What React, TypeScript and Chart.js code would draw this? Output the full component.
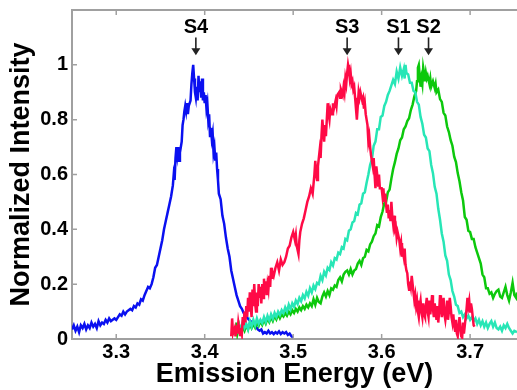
import React, { useEffect, useRef } from 'react';
import { Chart, registerables } from 'chart.js';

Chart.register(...registerables);

// ---- Axis definitions ----
const xRange = [3.25, 3.753];
const yRange = [0, 1.2];
const xTickValues = [3.3, 3.4, 3.5, 3.6, 3.7];
const yTickValues = [0, 0.2, 0.4, 0.6, 0.8, 1];
const xTitle = 'Emission Energy (eV)';
const yTitle = 'Normalized Intensity';

// ---- Peak annotations ----
const peakLabels = ['S4', 'S3', 'S1', 'S2'];
const peakEnergies = [3.39, 3.561, 3.619, 3.653];
const peakLabelLevel = 1.135;
const peakArrowTop = 1.1;
const peakArrowTip = 1.035;

// ---- Series: [energy (eV), normalized intensity] ----
const s4Spectrum = [
  [3.25, 0.035], [3.252, 0.05], [3.254, 0.03], [3.256, 0.045], [3.258, 0.025], [3.26, 0.05], [3.262, 0.04],
  [3.264, 0.055], [3.266, 0.035], [3.268, 0.05], [3.27, 0.04], [3.272, 0.06], [3.274, 0.045], [3.276, 0.055],
  [3.278, 0.04], [3.28, 0.065], [3.282, 0.05], [3.284, 0.06], [3.286, 0.055], [3.288, 0.07], [3.29, 0.06],
  [3.292, 0.075], [3.294, 0.065], [3.296, 0.07], [3.298, 0.075], [3.3, 0.07], [3.302, 0.08], [3.304, 0.09],
  [3.306, 0.085], [3.308, 0.1], [3.31, 0.09], [3.312, 0.1], [3.314, 0.105], [3.316, 0.11], [3.318, 0.105],
  [3.32, 0.12], [3.322, 0.115], [3.324, 0.13], [3.326, 0.125], [3.328, 0.145], [3.33, 0.14], [3.332, 0.16],
  [3.334, 0.175], [3.336, 0.19], [3.338, 0.185], [3.34, 0.2], [3.342, 0.225], [3.344, 0.26], [3.346, 0.27],
  [3.348, 0.3], [3.35, 0.33], [3.352, 0.36], [3.354, 0.4], [3.356, 0.43], [3.358, 0.46], [3.36, 0.49],
  [3.362, 0.52], [3.364, 0.56], [3.365, 0.6], [3.366, 0.58], [3.367, 0.66], [3.368, 0.7], [3.369, 0.67],
  [3.37, 0.7], [3.371, 0.65], [3.372, 0.68], [3.374, 0.72], [3.375, 0.78], [3.376, 0.8], [3.377, 0.83],
  [3.378, 0.85], [3.379, 0.83], [3.38, 0.86], [3.381, 0.82], [3.382, 0.85], [3.384, 0.87], [3.385, 0.93],
  [3.386, 0.97], [3.387, 1.0], [3.388, 0.95], [3.389, 0.9], [3.39, 0.88], [3.391, 0.92], [3.392, 0.87],
  [3.393, 0.96], [3.394, 0.9], [3.395, 0.94], [3.396, 0.88], [3.397, 0.95], [3.398, 0.87], [3.399, 0.9],
  [3.4, 0.86], [3.401, 0.89], [3.402, 0.84], [3.403, 0.86], [3.404, 0.8], [3.405, 0.82], [3.406, 0.74],
  [3.407, 0.77], [3.408, 0.73], [3.409, 0.75], [3.41, 0.68], [3.411, 0.7], [3.412, 0.65], [3.413, 0.68],
  [3.414, 0.62], [3.415, 0.58], [3.416, 0.53], [3.418, 0.51], [3.42, 0.45], [3.422, 0.42], [3.424, 0.37],
  [3.426, 0.33], [3.428, 0.3], [3.43, 0.25], [3.432, 0.22], [3.434, 0.19], [3.436, 0.16], [3.438, 0.14],
  [3.44, 0.12], [3.442, 0.11], [3.444, 0.095], [3.446, 0.085], [3.448, 0.078], [3.45, 0.07], [3.452, 0.065],
  [3.454, 0.06], [3.456, 0.05], [3.458, 0.045], [3.46, 0.035], [3.462, 0.03], [3.464, 0.035], [3.466, 0.02],
  [3.468, 0.025], [3.47, 0.02], [3.472, 0.03], [3.474, 0.02], [3.476, 0.025], [3.478, 0.018], [3.48, 0.025],
  [3.482, 0.02], [3.484, 0.028], [3.486, 0.018], [3.488, 0.025], [3.49, 0.02], [3.492, 0.025], [3.494, 0.015],
  [3.496, 0.02], [3.498, 0.01], [3.5, 0.005],
];

const s3Spectrum = [
  [3.43, 0.01], [3.431, 0.075], [3.432, 0.02], [3.434, 0.04], [3.435, 0.01], [3.436, 0.05], [3.437, 0.02],
  [3.438, 0.06], [3.44, 0.015], [3.441, 0.04], [3.442, 0.02], [3.443, 0.08], [3.444, 0.05], [3.445, 0.1],
  [3.446, 0.06], [3.447, 0.12], [3.448, 0.08], [3.449, 0.15], [3.45, 0.1], [3.451, 0.17], [3.452, 0.12],
  [3.453, 0.08], [3.454, 0.18], [3.455, 0.12], [3.456, 0.2], [3.457, 0.13], [3.458, 0.1], [3.459, 0.17],
  [3.46, 0.12], [3.461, 0.2], [3.462, 0.15], [3.463, 0.19], [3.464, 0.13], [3.465, 0.2], [3.466, 0.15],
  [3.467, 0.22], [3.468, 0.17], [3.469, 0.21], [3.47, 0.16], [3.471, 0.2], [3.472, 0.18], [3.473, 0.23],
  [3.474, 0.19], [3.475, 0.26], [3.476, 0.22], [3.477, 0.24], [3.478, 0.23], [3.48, 0.26], [3.482, 0.28],
  [3.484, 0.25], [3.486, 0.29], [3.488, 0.27], [3.49, 0.28], [3.492, 0.3], [3.494, 0.33], [3.496, 0.34],
  [3.498, 0.37], [3.5, 0.39], [3.502, 0.36], [3.503, 0.38], [3.504, 0.34], [3.506, 0.31], [3.507, 0.36],
  [3.508, 0.39], [3.51, 0.42], [3.512, 0.44], [3.514, 0.47], [3.516, 0.5], [3.518, 0.52], [3.52, 0.55],
  [3.522, 0.53], [3.524, 0.6], [3.525, 0.65], [3.526, 0.6], [3.527, 0.58], [3.528, 0.63], [3.53, 0.69],
  [3.531, 0.66], [3.532, 0.74], [3.533, 0.8], [3.534, 0.76], [3.535, 0.72], [3.536, 0.78], [3.537, 0.74],
  [3.538, 0.8], [3.539, 0.86], [3.54, 0.82], [3.541, 0.8], [3.542, 0.84], [3.544, 0.82], [3.545, 0.86],
  [3.546, 0.84], [3.548, 0.87], [3.549, 0.85], [3.55, 0.89], [3.552, 0.9], [3.553, 0.88], [3.554, 0.91],
  [3.556, 0.89], [3.557, 0.92], [3.558, 0.9], [3.559, 0.95], [3.56, 0.93], [3.561, 0.97], [3.562, 1.0],
  [3.563, 0.98], [3.564, 0.95], [3.565, 0.97], [3.566, 0.93], [3.567, 0.94], [3.568, 0.91], [3.569, 0.92],
  [3.57, 0.88], [3.571, 0.84], [3.572, 0.8], [3.573, 0.85], [3.574, 0.9], [3.575, 0.88], [3.576, 0.9],
  [3.578, 0.87], [3.579, 0.88], [3.58, 0.84], [3.581, 0.86], [3.582, 0.82], [3.583, 0.8], [3.584, 0.78],
  [3.585, 0.72], [3.586, 0.74], [3.587, 0.7], [3.588, 0.67], [3.59, 0.63], [3.591, 0.66], [3.592, 0.6],
  [3.593, 0.55], [3.594, 0.63], [3.595, 0.6], [3.596, 0.56], [3.597, 0.6], [3.598, 0.55], [3.6, 0.55],
  [3.601, 0.52], [3.602, 0.55], [3.603, 0.5], [3.604, 0.53], [3.605, 0.49], [3.606, 0.46], [3.607, 0.49],
  [3.608, 0.44], [3.609, 0.47], [3.61, 0.43], [3.611, 0.5], [3.612, 0.45], [3.613, 0.42], [3.614, 0.45],
  [3.615, 0.4], [3.616, 0.41], [3.617, 0.37], [3.618, 0.39], [3.62, 0.36], [3.621, 0.33], [3.622, 0.35],
  [3.623, 0.3], [3.624, 0.32], [3.625, 0.3], [3.626, 0.33], [3.627, 0.27], [3.628, 0.25], [3.629, 0.24],
  [3.63, 0.2], [3.631, 0.18], [3.632, 0.21], [3.633, 0.19], [3.634, 0.23], [3.635, 0.2], [3.636, 0.17],
  [3.637, 0.14], [3.638, 0.16], [3.639, 0.12], [3.64, 0.14], [3.641, 0.1], [3.642, 0.08], [3.643, 0.12],
  [3.644, 0.14], [3.645, 0.1], [3.646, 0.08], [3.647, 0.13], [3.648, 0.09], [3.649, 0.08], [3.65, 0.12],
  [3.651, 0.15], [3.652, 0.1], [3.653, 0.08], [3.654, 0.14], [3.655, 0.09], [3.656, 0.12], [3.657, 0.16],
  [3.658, 0.11], [3.659, 0.08], [3.66, 0.13], [3.661, 0.1], [3.662, 0.07], [3.663, 0.12], [3.664, 0.06],
  [3.665, 0.1], [3.666, 0.16], [3.667, 0.12], [3.668, 0.08], [3.669, 0.11], [3.67, 0.15], [3.671, 0.09],
  [3.672, 0.07], [3.673, 0.1], [3.674, 0.14], [3.675, 0.07], [3.676, 0.1], [3.677, 0.15], [3.678, 0.12],
  [3.679, 0.08], [3.68, 0.06], [3.681, 0.09], [3.682, 0.05], [3.683, 0.03], [3.684, 0.07], [3.685, 0.02],
  [3.686, 0.01], [3.687, 0.05], [3.688, 0.08], [3.689, 0.04], [3.69, 0.01], [3.691, 0.005], [3.692, 0.06],
  [3.693, 0.02], [3.694, 0.05], [3.695, 0.08], [3.696, 0.11], [3.697, 0.15], [3.698, 0.12], [3.699, 0.14],
  [3.7, 0.1], [3.701, 0.13], [3.702, 0.11], [3.703, 0.08], [3.704, 0.05], [3.705, 0.045],
];

const s1Spectrum = [
  [3.437, 0.02], [3.439, 0.05], [3.441, 0.03], [3.443, 0.06], [3.445, 0.04], [3.447, 0.055], [3.449, 0.035],
  [3.451, 0.065], [3.453, 0.045], [3.455, 0.07], [3.457, 0.05], [3.459, 0.075], [3.461, 0.055], [3.463, 0.07],
  [3.465, 0.058], [3.467, 0.08], [3.469, 0.062], [3.471, 0.085], [3.473, 0.068], [3.475, 0.09], [3.477, 0.074],
  [3.479, 0.095], [3.481, 0.08], [3.483, 0.1], [3.485, 0.088], [3.487, 0.105], [3.489, 0.094], [3.491, 0.115],
  [3.493, 0.1], [3.495, 0.125], [3.497, 0.108], [3.499, 0.13], [3.501, 0.118], [3.503, 0.14], [3.505, 0.128],
  [3.507, 0.15], [3.509, 0.138], [3.511, 0.16], [3.513, 0.148], [3.515, 0.172], [3.517, 0.158], [3.519, 0.185],
  [3.521, 0.17], [3.523, 0.195], [3.525, 0.182], [3.527, 0.205], [3.529, 0.2], [3.531, 0.23], [3.533, 0.215],
  [3.535, 0.245], [3.537, 0.232], [3.539, 0.26], [3.541, 0.252], [3.543, 0.28], [3.545, 0.268], [3.547, 0.295],
  [3.549, 0.29], [3.551, 0.315], [3.553, 0.31], [3.555, 0.335], [3.557, 0.33], [3.559, 0.365], [3.561, 0.36],
  [3.563, 0.395], [3.565, 0.4], [3.567, 0.425], [3.569, 0.43], [3.571, 0.46], [3.573, 0.455], [3.575, 0.49],
  [3.577, 0.495], [3.579, 0.53], [3.581, 0.535], [3.583, 0.57], [3.585, 0.6], [3.587, 0.635], [3.589, 0.655],
  [3.591, 0.705], [3.593, 0.72], [3.595, 0.765], [3.597, 0.765], [3.599, 0.81], [3.601, 0.815], [3.603, 0.85],
  [3.605, 0.865], [3.607, 0.89], [3.609, 0.905], [3.611, 0.925], [3.613, 0.945], [3.615, 0.93], [3.617, 0.975],
  [3.619, 0.95], [3.621, 0.99], [3.623, 0.96], [3.625, 0.985], [3.626, 0.95], [3.627, 1.0], [3.628, 0.97],
  [3.63, 0.965], [3.632, 0.935], [3.634, 0.935], [3.636, 0.905], [3.638, 0.9], [3.64, 0.865], [3.642, 0.855],
  [3.644, 0.81], [3.646, 0.785], [3.648, 0.745], [3.65, 0.735], [3.652, 0.695], [3.654, 0.685], [3.656, 0.635],
  [3.658, 0.605], [3.66, 0.555], [3.662, 0.53], [3.664, 0.475], [3.666, 0.435], [3.668, 0.385], [3.67, 0.355],
  [3.672, 0.305], [3.674, 0.285], [3.676, 0.235], [3.678, 0.215], [3.68, 0.175], [3.682, 0.155], [3.684, 0.125],
  [3.686, 0.12], [3.688, 0.095], [3.69, 0.1], [3.692, 0.08], [3.694, 0.09], [3.696, 0.075], [3.698, 0.085],
  [3.7, 0.07], [3.702, 0.08], [3.704, 0.065], [3.706, 0.075], [3.708, 0.055], [3.71, 0.07], [3.712, 0.05],
  [3.714, 0.065], [3.716, 0.045], [3.718, 0.06], [3.72, 0.04], [3.722, 0.055], [3.724, 0.065], [3.726, 0.045],
  [3.728, 0.06], [3.73, 0.04], [3.732, 0.035], [3.734, 0.045], [3.736, 0.03], [3.738, 0.05], [3.74, 0.04],
  [3.742, 0.055], [3.744, 0.04], [3.746, 0.03], [3.748, 0.02], [3.75, 0.03], [3.753, 0.025],
];

const s2Spectrum = [
  [3.435, 0.01], [3.436, 0.06], [3.437, 0.02], [3.439, 0.05], [3.441, 0.025], [3.443, 0.045], [3.445, 0.03],
  [3.447, 0.05], [3.449, 0.035], [3.451, 0.055], [3.453, 0.04], [3.455, 0.055], [3.457, 0.042], [3.459, 0.06],
  [3.461, 0.048], [3.463, 0.065], [3.465, 0.052], [3.467, 0.07], [3.469, 0.056], [3.471, 0.075], [3.473, 0.062],
  [3.475, 0.08], [3.477, 0.066], [3.479, 0.085], [3.481, 0.072], [3.483, 0.09], [3.485, 0.076], [3.487, 0.09],
  [3.489, 0.082], [3.491, 0.095], [3.493, 0.085], [3.495, 0.1], [3.497, 0.09], [3.499, 0.105], [3.501, 0.095],
  [3.503, 0.11], [3.505, 0.1], [3.507, 0.115], [3.509, 0.105], [3.511, 0.12], [3.513, 0.11], [3.515, 0.125],
  [3.517, 0.115], [3.519, 0.13], [3.521, 0.12], [3.523, 0.145], [3.525, 0.125], [3.527, 0.15], [3.529, 0.135],
  [3.531, 0.13], [3.533, 0.155], [3.535, 0.17], [3.537, 0.155], [3.539, 0.175], [3.541, 0.16], [3.543, 0.185],
  [3.545, 0.18], [3.547, 0.195], [3.549, 0.19], [3.551, 0.215], [3.553, 0.225], [3.555, 0.21], [3.557, 0.235],
  [3.559, 0.245], [3.561, 0.25], [3.563, 0.235], [3.565, 0.255], [3.567, 0.235], [3.569, 0.25], [3.571, 0.255],
  [3.573, 0.275], [3.575, 0.285], [3.577, 0.27], [3.579, 0.295], [3.581, 0.3], [3.583, 0.325], [3.585, 0.32],
  [3.587, 0.345], [3.589, 0.355], [3.591, 0.375], [3.593, 0.385], [3.595, 0.415], [3.597, 0.41], [3.599, 0.445],
  [3.601, 0.465], [3.603, 0.495], [3.605, 0.5], [3.607, 0.535], [3.609, 0.545], [3.611, 0.585], [3.613, 0.62],
  [3.615, 0.645], [3.617, 0.675], [3.619, 0.695], [3.621, 0.725], [3.623, 0.735], [3.625, 0.765], [3.627, 0.775],
  [3.629, 0.795], [3.631, 0.805], [3.633, 0.835], [3.635, 0.855], [3.637, 0.885], [3.639, 0.905], [3.64, 0.94],
  [3.641, 0.99], [3.642, 1.0], [3.643, 0.96], [3.644, 0.92], [3.645, 0.95], [3.646, 0.93], [3.647, 0.99],
  [3.648, 0.97], [3.649, 0.94], [3.65, 0.97], [3.651, 0.95], [3.652, 0.96], [3.654, 0.93], [3.655, 0.95],
  [3.656, 0.92], [3.658, 0.94], [3.66, 0.915], [3.661, 0.93], [3.662, 0.9], [3.664, 0.91], [3.666, 0.875],
  [3.668, 0.865], [3.67, 0.825], [3.672, 0.815], [3.674, 0.775], [3.676, 0.755], [3.678, 0.725], [3.68, 0.705],
  [3.682, 0.665], [3.684, 0.645], [3.686, 0.605], [3.688, 0.575], [3.69, 0.535], [3.692, 0.505], [3.694, 0.445],
  [3.696, 0.435], [3.698, 0.395], [3.7, 0.39], [3.702, 0.365], [3.704, 0.365], [3.706, 0.335], [3.708, 0.315],
  [3.71, 0.295], [3.712, 0.275], [3.714, 0.235], [3.716, 0.225], [3.718, 0.185], [3.72, 0.185], [3.722, 0.165],
  [3.724, 0.17], [3.726, 0.15], [3.728, 0.165], [3.73, 0.175], [3.732, 0.18], [3.734, 0.155], [3.736, 0.15],
  [3.738, 0.17], [3.74, 0.19], [3.742, 0.16], [3.744, 0.14], [3.746, 0.17], [3.748, 0.205], [3.75, 0.16],
  [3.752, 0.15], [3.753, 0.17],
];

const seriesNames = ['S3', 'S1', 'S2', 'S4'];
const seriesData = [s3Spectrum, s1Spectrum, s2Spectrum, s4Spectrum];
const seriesColors = ['#ff0a46', '#27e6b6', '#0cc80c', '#0a10f0'];

const FONT = '"Liberation Sans", Arial, Helvetica, sans-serif';
const AXIS_COLOR = '#a0a0a0';

const decorPlugin = {
  id: 'decor',
  afterDraw(chart: any) {
    const { ctx, chartArea, scales } = chart;
    const xs = scales.x;
    const ys = scales.y;
    ctx.save();
    // inward tick marks
    ctx.strokeStyle = AXIS_COLOR;
    ctx.lineWidth = 1.5;
    ctx.beginPath();
    xTickValues.forEach((v) => {
      const px = xs.getPixelForValue(v);
      ctx.moveTo(px, chartArea.bottom);
      ctx.lineTo(px, chartArea.bottom - 5);
      ctx.moveTo(px, chartArea.top);
      ctx.lineTo(px, chartArea.top + 5);
    });
    yTickValues.forEach((v) => {
      const py = ys.getPixelForValue(v);
      ctx.moveTo(chartArea.left, py);
      ctx.lineTo(chartArea.left + 5, py);
    });
    ctx.stroke();

    // peak labels with arrows
    ctx.font = 'bold 20px ' + FONT;
    ctx.textAlign = 'center';
    ctx.textBaseline = 'middle';
    peakLabels.forEach((lab, i) => {
      const px = xs.getPixelForValue(peakEnergies[i]);
      ctx.fillStyle = '#000';
      ctx.fillText(lab, px, ys.getPixelForValue(peakLabelLevel));
      const yTop = ys.getPixelForValue(peakArrowTop);
      const yTip = ys.getPixelForValue(peakArrowTip);
      ctx.strokeStyle = '#222';
      ctx.fillStyle = '#222';
      ctx.lineWidth = 1.6;
      ctx.beginPath();
      ctx.moveTo(px, yTop);
      ctx.lineTo(px, yTip - 4);
      ctx.stroke();
      ctx.beginPath();
      ctx.moveTo(px - 4.5, yTip - 7);
      ctx.lineTo(px + 4.5, yTip - 7);
      ctx.lineTo(px, yTip);
      ctx.closePath();
      ctx.fill();
    });
    ctx.restore();
  },
};

export default function App() {
  const ref = useRef<HTMLCanvasElement | null>(null);

  useEffect(() => {
    if (!ref.current) return;
    const chart = new Chart(ref.current, {
      type: 'line',
      data: {
        datasets: seriesData.map((pts, i) => ({
          label: seriesNames[i],
          data: pts.map(([x, y]) => ({ x, y })),
          borderColor: seriesColors[i],
          backgroundColor: seriesColors[i],
          borderWidth: 2.5,
          pointRadius: 0,
          tension: 0,
          fill: false,
        })),
      },
      options: {
        animation: false,
        responsive: false,
        maintainAspectRatio: false,
        layout: { padding: 0 },
        plugins: {
          legend: { display: false },
          tooltip: { enabled: false },
        },
        scales: {
          x: {
            type: 'linear',
            position: 'bottom',
            min: xRange[0],
            max: xRange[1],
            afterBuildTicks: (scale: any) => {
              scale.ticks = xTickValues.map((v) => ({ value: v }));
            },
            afterFit: (scale: any) => {
              scale.height = 51;
              scale.paddingLeft = 0;
              scale.paddingRight = 0;
            },
            grid: { display: false, drawTicks: false },
            border: { display: true, color: AXIS_COLOR, width: 2 },
            ticks: {
              autoSkip: false,
              maxRotation: 0,
              padding: 1,
              color: '#000',
              font: { family: FONT, size: 20, weight: 'bold' },
              callback: (v: any) => Number(v).toFixed(1),
            },
            title: {
              display: true,
              text: xTitle,
              color: '#000',
              font: { family: FONT, size: 27, weight: 'bold', lineHeight: 1 },
              padding: { top: 0, bottom: 1.5 },
            },
          },
          x2: {
            type: 'linear',
            position: 'top',
            min: xRange[0],
            max: xRange[1],
            afterFit: (scale: any) => {
              scale.height = 10;
              scale.paddingLeft = 0;
              scale.paddingRight = 0;
            },
            grid: { display: false, drawTicks: false },
            border: { display: true, color: AXIS_COLOR, width: 2 },
            ticks: { display: false },
          },
          y: {
            type: 'linear',
            position: 'left',
            min: yRange[0],
            max: yRange[1],
            afterBuildTicks: (scale: any) => {
              scale.ticks = yTickValues.map((v) => ({ value: v }));
            },
            afterFit: (scale: any) => {
              scale.width = 72;
              scale.paddingTop = 0;
              scale.paddingBottom = 0;
            },
            grid: { display: false, drawTicks: false },
            border: { display: true, color: AXIS_COLOR, width: 2 },
            ticks: {
              padding: 4,
              color: '#000',
              font: { family: FONT, size: 20, weight: 'bold' },
              callback: (v: any) => String(Number(Number(v).toFixed(1))),
            },
            title: {
              display: true,
              text: yTitle,
              color: '#000',
              font: { family: FONT, size: 27, weight: 'bold', lineHeight: 1 },
              padding: { top: 8.5, bottom: 0 },
            },
          },
        },
      },
      plugins: [decorPlugin],
    } as any);
    return () => chart.destroy();
  }, []);

  return (
    <div style={{ position: 'absolute', left: 0, top: 0, width: 517, height: 390, background: '#fff' }}>
      <canvas ref={ref} width={517} height={390} style={{ display: 'block' }} />
    </div>
  );
}
